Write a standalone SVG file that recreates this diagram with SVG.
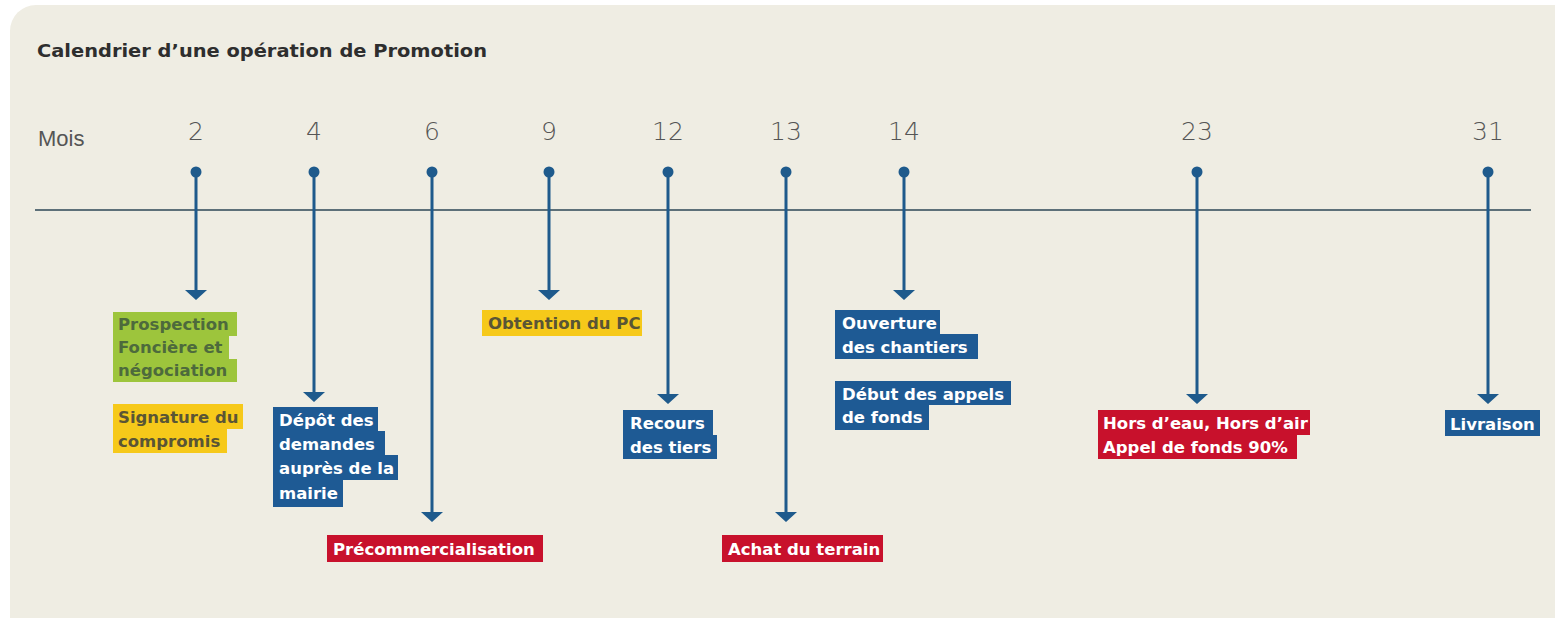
<svg xmlns="http://www.w3.org/2000/svg" width="1555" height="618" viewBox="0 0 1555 618">
<style>
.title{font-family:"DejaVu Sans","Liberation Sans",sans-serif;font-weight:bold;font-size:18px;fill:#2e2e2e}
.mois{font-family:"Liberation Sans",sans-serif;font-size:22px;fill:#555}
.num{font-family:"DejaVu Sans","Liberation Sans",sans-serif;font-weight:300;font-size:25px;fill:#555;text-anchor:middle}
.lbl{font-family:"DejaVu Sans","Liberation Sans",sans-serif;font-weight:bold;font-size:16.5px}
.w{fill:#ffffff}
.dg{fill:#4d6a3c}
.dy{fill:#5a5535}
.bg-b{fill:#1e5a94}
.bg-r{fill:#c8112c}
.bg-g{fill:#9dc53c}
.bg-y{fill:#f6c91a}
.stem{stroke:#1e5a8c;stroke-width:3;fill:none}
.head{fill:#1e5a8c}
.dot{fill:#1e5a8c}
</style>
<rect x="0" y="0" width="1555" height="618" fill="#ffffff"/>
<rect x="10" y="5" width="1580" height="660" rx="26" fill="#efede3"/>
<text class="title" x="37" y="57" textLength="450" lengthAdjust="spacingAndGlyphs">Calendrier d’une opération de Promotion</text>
<text class="mois" x="38" y="146">Mois</text>
<g id="months">
<text class="num" x="196" y="140">2</text>
<text class="num" x="314" y="140">4</text>
<text class="num" x="432" y="140">6</text>
<text class="num" x="549" y="140">9</text>
<text class="num" x="668" y="140">12</text>
<text class="num" x="786" y="140">13</text>
<text class="num" x="904" y="140">14</text>
<text class="num" x="1197" y="140">23</text>
<text class="num" x="1488" y="140">31</text>
</g>
<g id="connectors">
<line x1="35" y1="210" x2="1531" y2="210" stroke="#2d4656" stroke-width="1.6"/>
<g class="dot">
<circle cx="196" cy="172" r="5.5"/><circle cx="314" cy="172" r="5.5"/><circle cx="432" cy="172" r="5.5"/>
<circle cx="549" cy="172" r="5.5"/><circle cx="668" cy="172" r="5.5"/><circle cx="786" cy="172" r="5.5"/>
<circle cx="904" cy="172" r="5.5"/><circle cx="1197" cy="172" r="5.5"/><circle cx="1488" cy="172" r="5.5"/>
</g>
<path class="stem" d="M196 172V292M314 172V394M432 172V514M549 172V292M668 172V396M786 172V514M904 172V292M1197 172V396M1488 172V396"/>
<path class="head" d="M185 290h22l-11 10zM303 392h22l-11 10zM421 512h22l-11 10zM538 290h22l-11 10zM657 394h22l-11 10zM775 512h22l-11 10zM893 290h22l-11 10zM1186 394h22l-11 10zM1477 394h22l-11 10z"/>
</g>
<g id="n-prospection">
<rect class="bg-g" x="113" y="312" width="124" height="24"/>
<rect class="bg-g" x="113" y="336" width="116" height="23"/>
<rect class="bg-g" x="113" y="359" width="124" height="23"/>
<text class="lbl dg" x="118" y="330">Prospection</text>
<text class="lbl dg" x="118" y="353">Foncière et</text>
<text class="lbl dg" x="118" y="376">négociation</text>
</g>
<g id="n-signature">
<rect class="bg-y" x="113" y="404" width="130" height="25"/>
<rect class="bg-y" x="113" y="429" width="114" height="24"/>
<text class="lbl dy" x="118" y="423">Signature du</text>
<text class="lbl dy" x="118" y="447">compromis</text>
</g>
<g id="n-depot">
<rect class="bg-b" x="273" y="407" width="105" height="24"/>
<rect class="bg-b" x="273" y="431" width="112" height="24"/>
<rect class="bg-b" x="273" y="455" width="125" height="25"/>
<rect class="bg-b" x="273" y="480" width="70" height="27"/>
<text class="lbl w" x="279" y="426">Dépôt des</text>
<text class="lbl w" x="279" y="450">demandes</text>
<text class="lbl w" x="279" y="474">auprès de la</text>
<text class="lbl w" x="279" y="499">mairie</text>
</g>
<g id="n-precommercialisation">
<rect class="bg-r" x="327" y="535" width="216" height="27"/>
<text class="lbl w" x="333" y="555">Précommercialisation</text>
</g>
<g id="n-obtention">
<rect class="bg-y" x="482" y="310" width="160" height="26"/>
<text class="lbl dy" x="488" y="329">Obtention du PC</text>
</g>
<g id="n-recours">
<rect class="bg-b" x="623" y="410" width="90" height="25"/>
<rect class="bg-b" x="623" y="435" width="94" height="24"/>
<text class="lbl w" x="630" y="429">Recours</text>
<text class="lbl w" x="630" y="453">des tiers</text>
</g>
<g id="n-achat">
<rect class="bg-r" x="722" y="535" width="161" height="27"/>
<text class="lbl w" x="728" y="555">Achat du terrain</text>
</g>
<g id="n-ouverture">
<rect class="bg-b" x="835" y="310" width="105" height="24"/>
<rect class="bg-b" x="835" y="334" width="143" height="25"/>
<text class="lbl w" x="842" y="329">Ouverture</text>
<text class="lbl w" x="842" y="353">des chantiers</text>
</g>
<g id="n-debut">
<rect class="bg-b" x="835" y="381" width="176" height="24"/>
<rect class="bg-b" x="835" y="405" width="94" height="25"/>
<text class="lbl w" x="842" y="400">Début des appels</text>
<text class="lbl w" x="842" y="423">de fonds</text>
</g>
<g id="n-hors">
<rect class="bg-r" x="1098" y="410" width="212" height="25"/>
<rect class="bg-r" x="1098" y="435" width="199" height="24"/>
<text class="lbl w" x="1103" y="429">Hors d’eau, Hors d’air</text>
<text class="lbl w" x="1103" y="453">Appel de fonds 90%</text>
</g>
<g id="n-livraison">
<rect class="bg-b" x="1445" y="410" width="95" height="26"/>
<text class="lbl w" x="1450" y="430">Livraison</text>
</g>
</svg>
